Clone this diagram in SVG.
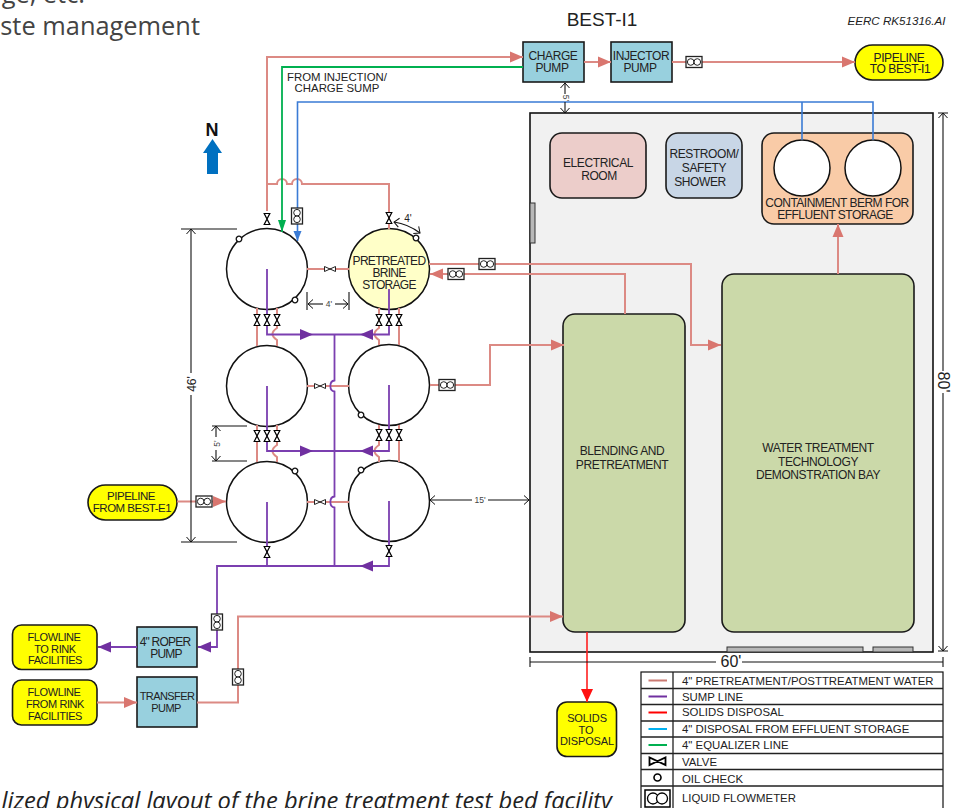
<svg xmlns="http://www.w3.org/2000/svg" width="961" height="808" viewBox="0 0 961 808">
<style>
text{font-family:"Liberation Sans",Arial,sans-serif;fill:#222}
.m{text-anchor:middle}
.l{font-size:12px;letter-spacing:-.4px}
.y{font-size:11px;letter-spacing:-.4px}
.lg{font-size:11.4px}
.d{font-size:8.500px;fill:#444;text-anchor:middle}
.o{font-family:"Open Sans",sans-serif;fill:#444}
.b{stroke:#1a1a1a;stroke-width:1.6}
.t{fill:#fff;stroke:#111;stroke-width:1.5}
.p{fill:none;stroke-linejoin:miter}
.s{stroke:#dc8a84;stroke-width:2}
.u{stroke:#7b3fb0;stroke-width:1.8}
.g{stroke:#00b050;stroke-width:1.8}
.c{stroke:#3a7bd5;stroke-width:1.6}
.r{stroke:#ff2020;stroke-width:1.6}
.a-s{marker-end:url(#as)}
.a-u{marker-end:url(#au)}
.dim{fill:none;stroke:#111;stroke-width:1.1}
.de{marker-end:url(#od)}
.gr{fill:#b8b8b8;stroke:#333;stroke-width:1}
.lr{fill:none;stroke:#222;stroke-width:1.3}
</style>
<defs>
<marker id="as" markerUnits="userSpaceOnUse" markerWidth="14" markerHeight="12" refX="13" refY="6" orient="auto"><path d="M0 0.5L13 6L0 11.500Z" fill="#d9766f"/></marker>
<marker id="au" markerUnits="userSpaceOnUse" markerWidth="14" markerHeight="12" refX="13" refY="6" orient="auto"><path d="M0 0.500L13 6L0 11.500Z" fill="#7030a0"/></marker>
<marker id="ag" markerUnits="userSpaceOnUse" markerWidth="13" markerHeight="10" refX="12" refY="5" orient="auto"><path d="M0 1L12 5L0 9Z" fill="#00b050"/></marker>
<marker id="ac" markerUnits="userSpaceOnUse" markerWidth="11" markerHeight="10" refX="10" refY="5" orient="auto"><path d="M0 1L10 5L0 9Z" fill="#3a7bd5"/></marker>
<marker id="ar" markerUnits="userSpaceOnUse" markerWidth="14" markerHeight="12" refX="13" refY="6" orient="auto"><path d="M0 0L13 6L0 12Z" fill="#ff1010"/></marker>
<marker id="od" markerUnits="userSpaceOnUse" markerWidth="12" markerHeight="12" refX="10" refY="6" orient="auto-start-reverse"><path d="M5 1.500L10 6L5 10.500" fill="none" stroke="#111" stroke-width="1"/></marker>
<g id="vv"><path d="M-2.800-5.500H2.800L-2.800 5.500H2.800Z" fill="#fff" stroke="#000" stroke-width="1.200"/></g>
<g id="vh"><path d="M-5.500-2.500V2.500L5.500-2.500V2.500Z" fill="#fff" stroke="#222" stroke-width="1"/></g>
<g id="fh"><rect x="-8" y="-5.500" width="16" height="11" fill="#fff" stroke="#222" stroke-width="1.300"/><circle cx="-3.300" r="3.300" fill="#fff" stroke="#222" stroke-width="1"/><circle cx="3.300" r="3.300" fill="#fff" stroke="#222" stroke-width="1"/></g>
<g id="fv"><rect x="-5.500" y="-8" width="11" height="16" fill="#fff" stroke="#222" stroke-width="1.300"/><circle cy="-3.300" r="3.300" fill="#fff" stroke="#222" stroke-width="1"/><circle cy="3.300" r="3.300" fill="#fff" stroke="#222" stroke-width="1"/></g>
<circle id="oc" r="2.800" fill="#fff" stroke="#111" stroke-width="1.300"/>
</defs>

<text class="o" font-size="25.400" x="200" y="35" text-anchor="end">ste management</text>
<text class="o" font-size="25.400" x="85" y="3" text-anchor="end">ge, etc.</text>
<text class="o" font-size="23.700" font-style="italic" x="612" y="809" text-anchor="end" style="fill:#222">lized physical layout of the brine treatment test bed facility</text>
<text class="m" font-size="19" x="602" y="26">BEST-I1</text>
<text class="m" font-size="11.600" font-style="italic" x="896.500" y="25">EERC RK51316.AI</text>

<g id="north">
<text class="m" font-size="18" font-weight="bold" x="212" y="136" style="fill:#111">N</text>
<path d="M212.500 139L222 153H218V174H207V153H203Z" fill="#0070c0"/>
</g>

<g id="building">
<rect x="530" y="113" width="403" height="539" fill="#f1f1f1" stroke="#111" stroke-width="1.600"/>
<rect class="gr" x="530" y="203" width="5" height="40"/>
<rect class="gr" x="727" y="647" width="136" height="5"/>
<rect class="gr" x="873" y="647" width="40" height="5"/>
</g>

<g id="electrical-room"><rect class="b" x="550" y="133" width="96" height="65" rx="12" fill="#eccdca"/><text class="l m" x="598" y="167">ELECTRICAL<tspan x="599" dy="13">ROOM</tspan></text></g>
<g id="restroom"><rect class="b" x="666" y="133" width="76" height="65" rx="12" fill="#c8d6e6"/><text class="l m" x="704" y="158">RESTROOM/<tspan x="704" dy="14">SAFETY</tspan><tspan x="700" dy="14">SHOWER</tspan></text></g>
<g id="containment-berm"><rect class="b" x="762" y="133" width="151" height="91" rx="12" fill="#f9cba7"/><circle class="t" cx="802" cy="168" r="28"/><circle class="t" cx="873" cy="168" r="28"/><text class="l m" x="837" y="207" style="letter-spacing:-.5px">CONTAINMENT BERM FOR<tspan x="835" dy="12">EFFLUENT STORAGE</tspan></text></g>
<g id="blending"><rect class="b" x="563" y="314" width="122" height="318" rx="12" fill="#cbd9a9"/><text class="l m" x="622" y="455">BLENDING AND<tspan x="622" dy="14">PRETREATMENT</tspan></text></g>
<g id="water-treatment"><rect class="b" x="722" y="274" width="192" height="358" rx="12" fill="#cbd9a9"/><text class="l m" x="818" y="452">WATER TREATMENT<tspan x="818" dy="13.500">TECHNOLOGY</tspan><tspan x="818" dy="13.500">DEMONSTRATION BAY</tspan></text></g>

<g id="tank-1"><circle class="t" cx="267" cy="269" r="40.500"/></g>
<g id="pretreated-brine-storage"><circle class="t" cx="389" cy="269" r="40.500" style="fill:#ffffc8"/><text class="l m" x="389" y="265" style="letter-spacing:-.7px">PRETREATED<tspan x="389" dy="12">BRINE</tspan><tspan x="389" dy="12">STORAGE</tspan></text></g>
<g id="tank-3"><circle class="t" cx="267" cy="386" r="40.500"/></g>
<g id="tank-4"><circle class="t" cx="389" cy="385" r="40.500"/></g>
<g id="tank-5"><circle class="t" cx="267" cy="502" r="40.500"/></g>
<g id="tank-6"><circle class="t" cx="389" cy="501" r="40.500"/></g>

<g id="charge-pump"><rect class="b" x="523" y="42" width="61" height="40" fill="#98d0de"/><text class="l m" x="553" y="60">CHARGE<tspan x="552" dy="12">PUMP</tspan></text></g>
<g id="injector-pump"><rect class="b" x="611" y="42" width="61" height="40" fill="#98d0de"/><text class="l m" x="641" y="60">INJECTOR<tspan x="640" dy="12">PUMP</tspan></text></g>
<g id="pipeline-to-best-i1"><rect class="b" x="855" y="45" width="88" height="35" rx="17.500" fill="#ffff00"/><text class="l m" x="899" y="62">PIPELINE<tspan x="900" dy="11">TO BEST-I1</tspan></text></g>
<g id="pipeline-from-best-e1"><rect class="b" x="88" y="485" width="89" height="35" rx="17.500" fill="#ffff00"/><text class="m" font-size="11.500" letter-spacing="-.5" x="131" y="500">PIPELINE<tspan x="132" dy="12">FROM BEST-E1</tspan></text></g>
<g id="flowline-to-rink"><rect class="b" x="12.500" y="625" width="84.500" height="44.500" rx="9" fill="#ffff00"/><text class="y m" x="54" y="641">FLOWLINE<tspan x="55" dy="12">TO RINK</tspan><tspan x="55" dy="11">FACILITIES</tspan></text></g>
<g id="flowline-from-rink"><rect class="b" x="12.500" y="680" width="84.500" height="45" rx="9" fill="#ffff00"/><text class="y m" x="54" y="696">FLOWLINE<tspan x="55" dy="12">FROM RINK</tspan><tspan x="55" dy="12">FACILITIES</tspan></text></g>
<g id="roper-pump"><rect class="b" x="137" y="627" width="60" height="40" fill="#98d0de"/><text class="l m" x="165" y="646" style="letter-spacing:-.8px">4" ROPER<tspan x="166" dy="12">PUMP</tspan></text></g>
<g id="transfer-pump"><rect class="b" x="137" y="677" width="60" height="50" fill="#98d0de"/><text class="m" font-size="11" letter-spacing="-.6" x="167" y="700">TRANSFER<tspan x="166" dy="12">PUMP</tspan></text></g>
<g id="solids-to-disposal"><rect class="b" x="557" y="702" width="59.500" height="54.500" rx="10" fill="#ffff00"/><text class="m" font-size="11" letter-spacing="-.1" x="587" y="722">SOLIDS<tspan x="586" dy="11.500">TO</tspan><tspan x="587" dy="11.500">DISPOSAL</tspan></text></g>

<g id="connectors">
<path class="p s a-s" d="M267 211V57H523"/>
<path class="p s" d="M267 184H277a5 5 0 0 1 10 0H292a5 5 0 0 1 10 0H389V229"/>
<path class="p s a-s" d="M584 62H611"/>
<path class="p s a-s" d="M672 62H855"/>
<path class="p g" d="M523 67H282V232" marker-end="url(#ag)"/>
<path class="p c" d="M802 140V102"/>
<path class="p c" d="M873 140V102H297.500V241" marker-end="url(#ac)"/>
<path class="p s" d="M307 269H349"/>
<path class="p s a-s" d="M429 264H691V345H721"/>
<path class="p s a-s" d="M625 314V274H430"/>
<path class="p s a-s" d="M430 385H490V345H564"/>
<path class="p s a-s" d="M838 274V224"/>
<path class="p s a-s" d="M177 501.500H226"/>
<path class="p s a-s" d="M97 702.500H137"/>
<path class="p s a-s" d="M197 702.500H238V616.500H563"/>
<path class="p s" d="M257 308V346M399 308V345M257 425V462M399 425V462"/>
<path class="p s" d="M277 308V328Q268 334 277 340V346M379 308V328Q370 334 379 340V345M277 425V445Q268 451 277 457V462M379 425V445Q370 451 379 457V462"/>
<path class="p s" d="M307 386H349M307 502H349"/>
<path class="p u" d="M267 269V334.500H389V289M267 386V451H389V385"/>
<path class="p u" d="M334.500 334V380.500C329 381 329 391 334.500 391.500V496.500C329 497 329 507 334.500 507.500V566"/>
<path class="p u" d="M267 502V566M389 501V566H217V647H198"/>
<path class="p u a-u" d="M137 647H98"/>
<path class="a-u" d="M300 334.500H313"/>
<path class="a-u" d="M373 334.500H360"/>
<path class="a-u" d="M300 451H313"/>
<path class="a-u" d="M373 451H360"/>
<path class="a-u" d="M373 566H360"/>
<path class="a-u" d="M211 647H198"/>
<path class="p r" d="M587 632V702" marker-end="url(#ar)"/>
</g>

<g id="valves">
<use href="#vv" x="267" y="219"/><use href="#vv" x="389" y="218"/>
<use href="#vv" x="257" y="320"/><use href="#vv" x="267" y="320"/><use href="#vv" x="277" y="320"/>
<use href="#vv" x="379" y="320"/><use href="#vv" x="389" y="320"/><use href="#vv" x="399" y="320"/>
<use href="#vv" x="257" y="436"/><use href="#vv" x="267" y="436"/><use href="#vv" x="277" y="436"/>
<use href="#vv" x="379" y="435"/><use href="#vv" x="389" y="435"/><use href="#vv" x="399" y="435"/>
<use href="#vv" x="267" y="552"/><use href="#vv" x="389" y="551"/>
<use href="#vh" x="330" y="269"/><use href="#vh" x="320" y="386"/><use href="#vh" x="320" y="502"/>
</g>
<g id="flowmeters">
<use href="#fh" x="694" y="62"/><use href="#fh" x="487" y="264"/><use href="#fh" x="456" y="274"/><use href="#fh" x="447" y="385"/><use href="#fh" x="204" y="501.500"/>
<use href="#fv" x="297" y="216"/><use href="#fv" x="217" y="622"/><use href="#fv" x="238" y="677"/>
</g>
<g id="oil-checks">
<use href="#oc" x="239" y="239"/><use href="#oc" x="295" y="300"/><use href="#oc" x="416" y="238"/><use href="#oc" x="361" y="415"/><use href="#oc" x="295" y="471"/><use href="#oc" x="361" y="470"/>
</g>

<g id="dimensions">
<path class="dim" d="M181 229H237M181 542H237M212 426H247M212 461H247M307 292V310M349 292V310M938 113H948M938 651H948M530 657V667M943 657V667M530 662H716M742 662H943"/>
<path class="dim de" d="M191 373V229"/><path class="dim de" d="M191 395V542"/>
<path class="dim de" d="M216 437V426"/><path class="dim de" d="M216 450V461"/>
<path class="dim de" d="M323 304H308"/><path class="dim de" d="M335 304H348"/>
<path class="dim de" d="M472 500H430"/><path class="dim de" d="M488 500H529"/>
<path class="dim de" d="M565 94V83"/><path class="dim de" d="M565 102V113"/>
<path class="dim de" d="M943 371V113"/><path class="dim de" d="M943 393V651"/>
<path class="dim" d="M394 222Q408 224 420 233" marker-start="url(#od)" marker-end="url(#od)"/>
<text font-size="12" class="m" transform="translate(196 384) rotate(-90)">46'</text>
<text class="d" transform="translate(220 443.500) rotate(-90)">5'</text>
<text class="d" x="329" y="307">4'</text>
<text class="d" x="480" y="503">15'</text>
<text class="d" transform="translate(563 98) rotate(90)">5'</text>
<text font-size="10" class="m" x="408" y="222">4'</text>
<text font-size="16" class="m" x="731" y="667">60'</text>
<text font-size="16" class="m" transform="translate(938 382) rotate(90)">80'</text>
<text font-size="11.400" class="m" x="337" y="80.500">FROM INJECTION/<tspan x="337" dy="11">CHARGE SUMP</tspan></text>
</g>

<g id="legend">
<rect x="641" y="672" width="302" height="140" fill="#fff" stroke="#111" stroke-width="1.200"/>
<path class="lr" d="M673 672V808M641 688.500H943M641 704.500H943M641 721H943M641 737H943M641 753.500H943M641 769.500H943M641 786H943"/>
<path d="M648.500 680.500H667" stroke="#cb7a72" stroke-width="2"/>
<path d="M648.500 696.500H667" stroke="#7030a0" stroke-width="2"/>
<path d="M648.500 712.500H667" stroke="#ff0000" stroke-width="2"/>
<path d="M648.500 729H667" stroke="#00b0f0" stroke-width="2"/>
<path d="M648.500 745H667" stroke="#00b050" stroke-width="2"/>
<path d="M649.500 757.500V765L665.500 757.500V765Z" fill="#fff" stroke="#000" stroke-width="1.800"/>
<circle cx="657.500" cy="777.500" r="3.500" fill="#fff" stroke="#000" stroke-width="1.600"/>
<rect x="645" y="790" width="25" height="17" fill="#fff" stroke="#000" stroke-width="1.500"/>
<circle cx="653" cy="798.500" r="5.500" fill="#fff" stroke="#000" stroke-width="1.300"/>
<circle cx="662" cy="798.500" r="5.500" fill="#fff" stroke="#000" stroke-width="1.300"/>
<text class="lg" x="682" y="685">4" PRETREATMENT/POSTTREATMENT WATER</text>
<text class="lg" x="682" y="701">SUMP LINE</text>
<text class="lg" x="682" y="716">SOLIDS DISPOSAL</text>
<text class="lg" x="682" y="733">4" DISPOSAL FROM EFFLUENT STORAGE</text>
<text class="lg" x="682" y="749">4" EQUALIZER LINE</text>
<text class="lg" x="682" y="766">VALVE</text>
<text class="lg" x="682" y="783">OIL CHECK</text>
<text class="lg" x="682" y="802">LIQUID FLOWMETER</text>
</g>
</svg>
